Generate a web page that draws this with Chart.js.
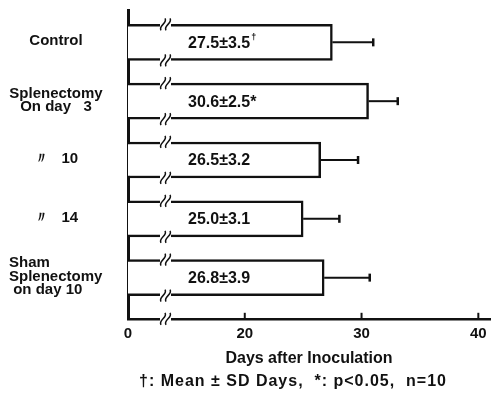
<!DOCTYPE html>
<html lang="en">
<head>
<meta charset="UTF-8">
<script src="https://cdn.jsdelivr.net/npm/chart.js"></script>
<title>Days after Inoculation</title>
<style>
  body { margin: 0; background: #fff; }
  .wrap { width: 496px; height: 396px; }
</style>
</head>
<body>
<div class="wrap"><canvas id="chart" width="496" height="396"></canvas></div>
<script>
// groups (left labels, one array of lines per group)
var groupLabels = [
  ['Control'],
  ['Splenectomy', 'On day   3'],
  ['\u3003   10'],
  ['\u3003   14'],
  ['Sham', 'Splenectomy', ' on day 10']
];
var groupAlign = ['center', 'center', 'center', 'center', 'left'];
var meanDays = [27.5, 30.6, 26.5, 25.0, 26.8];
var sdDays = [3.5, 2.5, 3.2, 3.1, 3.9];
var marks = ['\u2020', '*', '', '', ''];
// axis is broken: the "0" sits where 10 would be
var tickValues = [10, 20, 30, 40];
var tickLabels = ['0', '20', '30', '40'];
var footnote = '\u2020: Mean \u00b1 SD Days,  *: p<0.05,  n=10';

var FONT = 'Liberation Sans, Arial, sans-serif';
var INK = '#111';

function breakMark(ctx, x, y) {
  ctx.save();
  ctx.fillStyle = '#fff';
  ctx.fillRect(x - 5, y - 3, 11, 6);
  ctx.strokeStyle = INK;
  ctx.lineWidth = 1.5;
  [x - 2, x + 3].forEach(function (cx) {
    ctx.beginPath();
    ctx.moveTo(cx - 2, y + 6);
    ctx.bezierCurveTo(cx - 5, y + 1, cx + 5, y - 1, cx + 2, y - 6);
    ctx.stroke();
  });
  ctx.restore();
}

var extras = {
  id: 'extras',
  afterDatasetsDraw: function (chart) {
    var ctx = chart.ctx;
    var xs = chart.scales.x, ys = chart.scales.y;
    var meta = chart.getDatasetMeta(0);
    var area = chart.chartArea;
    var bx = area.left + 37;

    meta.data.forEach(function (bar, i) {
      var top = bar.y - bar.height / 2;
      var bot = bar.y + bar.height / 2;
      var x0 = bar.x;
      var x1 = xs.getPixelForValue(meanDays[i] + sdDays[i]);

      // error bar
      ctx.save();
      ctx.strokeStyle = INK;
      ctx.lineWidth = 2;
      ctx.beginPath();
      ctx.moveTo(x0, bar.y);
      ctx.lineTo(x1, bar.y);
      ctx.stroke();
      ctx.lineWidth = 2.5;
      ctx.beginPath();
      ctx.moveTo(x1, bar.y - 4);
      ctx.lineTo(x1, bar.y + 4);
      ctx.stroke();
      ctx.restore();

      // axis break on the bar edges
      breakMark(ctx, bx, top);
      breakMark(ctx, bx, bot);

      // value text
      ctx.save();
      ctx.fillStyle = INK;
      ctx.font = 'bold 16px ' + FONT;
      ctx.textBaseline = 'middle';
      ctx.textAlign = 'left';
      var txt = meanDays[i].toFixed(1) + '\u00b1' + sdDays[i].toFixed(1);
      ctx.fillText(txt, area.left + 60, bar.y + 1);
      var w = ctx.measureText(txt).width;
      if (marks[i] === '\u2020') {
        ctx.font = 'bold 9px ' + FONT;
        ctx.fillText(marks[i], area.left + 61 + w, bar.y - 5);
      } else if (marks[i]) {
        ctx.fillText(marks[i], area.left + 60 + w, bar.y + 1);
      }
      ctx.restore();
    });

    // group labels
    ctx.save();
    ctx.fillStyle = INK;
    ctx.font = 'bold 15px ' + FONT;
    ctx.textBaseline = 'middle';
    groupLabels.forEach(function (lines, i) {
      var cy = ys.getPixelForValue(i);
      var lh = 13.5;
      var y0 = cy - (lines.length - 1) * lh / 2 - 1;
      lines.forEach(function (s, k) {
        if (groupAlign[i] === 'left') {
          ctx.textAlign = 'left';
          ctx.fillText(s, 9, y0 + k * lh);
        } else {
          ctx.textAlign = 'center';
          ctx.fillText(s, 56, y0 + k * lh);
        }
      });
    });
    ctx.restore();

    // ticks pointing up and break on x axis
    ctx.save();
    ctx.strokeStyle = INK;
    ctx.lineWidth = 2;
    tickValues.slice(1).forEach(function (v) {
      var px = xs.getPixelForValue(v);
      ctx.beginPath();
      ctx.moveTo(px, area.bottom);
      ctx.lineTo(px, area.bottom - 6);
      ctx.stroke();
    });
    ctx.restore();
    breakMark(ctx, bx, area.bottom);

    // footnote
    ctx.save();
    ctx.fillStyle = INK;
    ctx.font = 'bold 16px ' + FONT;
    ctx.letterSpacing = '1px';
    ctx.textAlign = 'center';
    ctx.textBaseline = 'middle';
    ctx.fillText(footnote, 293, 382);
    ctx.restore();
  }
};

new Chart(document.getElementById('chart'), {
  type: 'bar',
  data: {
    datasets: [{
      data: meanDays.map(function (v, i) { return { x: v, y: i }; }),
      base: 10,
      backgroundColor: '#fff',
      borderColor: INK,
      borderWidth: 2.5,
      barThickness: 36
    }]
  },
  options: {
    indexAxis: 'y',
    responsive: false,
    animation: false,
    events: [],
    layout: { padding: { left: 128, top: 10, right: 6, bottom: 28 } },
    plugins: { legend: { display: false }, tooltip: { enabled: false } },
    scales: {
      x: {
        type: 'linear',
        min: 10,
        max: 41,
        afterBuildTicks: function (s) {
          s.ticks = tickValues.map(function (v) { return { value: v }; });
        },
        ticks: {
          color: INK,
          padding: 6,
          font: { family: FONT, size: 15, weight: 'bold' },
          callback: function (v) { return tickLabels[tickValues.indexOf(v)]; }
        },
        grid: { display: false, drawTicks: false },
        border: { display: true, color: INK, width: 2.5 },
        title: {
          display: true,
          text: 'Days after Inoculation',
          color: INK,
          font: { family: FONT, size: 16, weight: 'bold' },
          padding: { top: 0, bottom: 0 }
        }
      },
      y: {
        type: 'linear',
        reverse: true,
        offset: false,
        min: -0.55,
        max: 4.7,
        ticks: { display: false },
        grid: { display: false, drawTicks: false },
        border: { display: true, color: INK, width: 3 }
      }
    }
  },
  plugins: [extras]
});
</script>
</body>
</html>
